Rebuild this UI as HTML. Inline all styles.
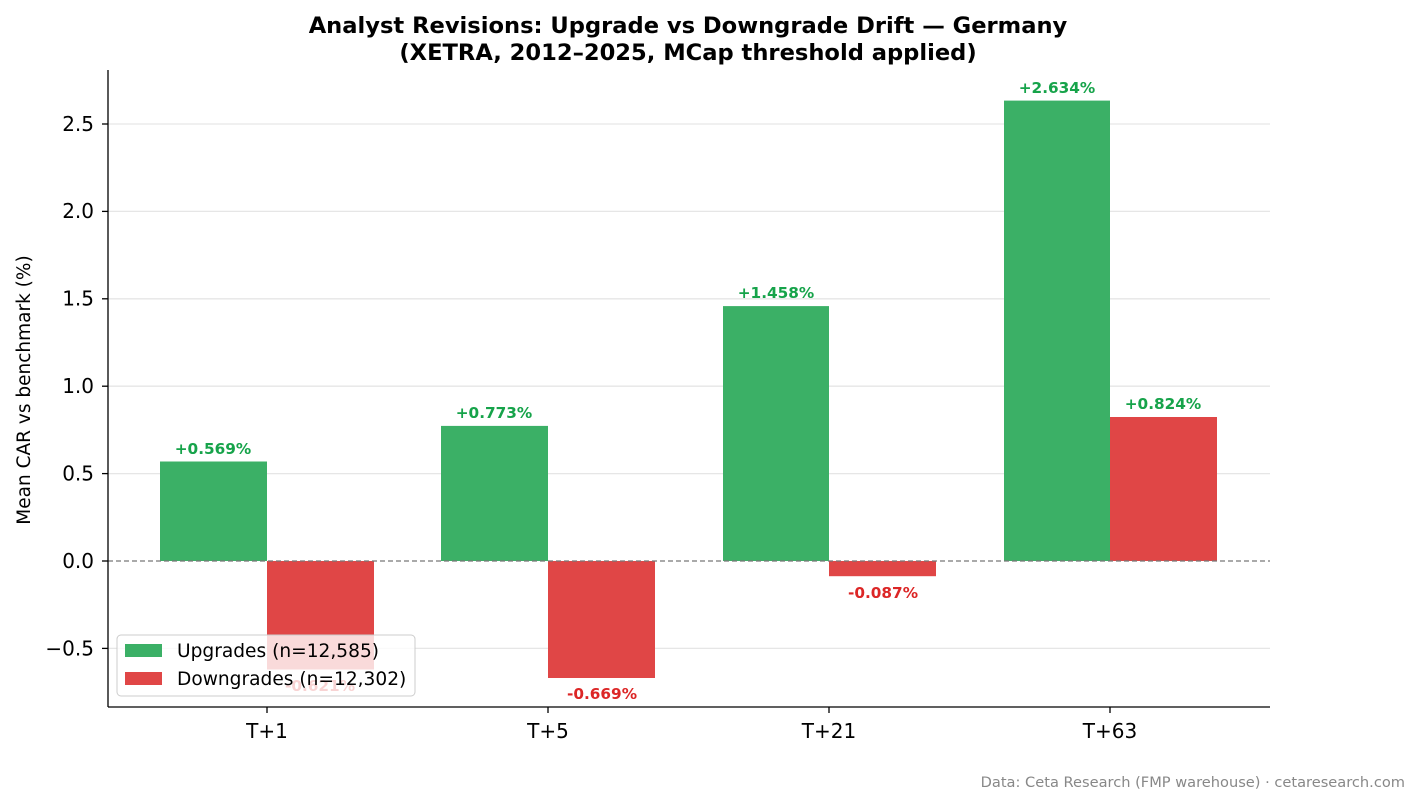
<!DOCTYPE html>
<html><head><meta charset="utf-8"><style>
body{margin:0;background:#fff;}
svg text{font-family:"DejaVu Sans","Liberation Sans",sans-serif;}
</style></head><body>
<svg width="1420" height="804" viewBox="0 0 1420 804" xmlns="http://www.w3.org/2000/svg">
<rect width="1420" height="804" fill="#fff"/>
<text x="688" y="33" text-anchor="middle" font-size="22.6" font-weight="bold">Analyst Revisions: Upgrade vs Downgrade Drift — Germany</text>
<text x="688" y="60" text-anchor="middle" font-size="22.6" font-weight="bold">(XETRA, 2012–2025, MCap threshold applied)</text>
<g stroke="#e6e6e6" stroke-width="1.3">
<line x1="108" x2="1270" y1="648.4" y2="648.4"/>
<line x1="108" x2="1270" y1="473.6" y2="473.6"/>
<line x1="108" x2="1270" y1="386.2" y2="386.2"/>
<line x1="108" x2="1270" y1="298.8" y2="298.8"/>
<line x1="108" x2="1270" y1="211.4" y2="211.4"/>
<line x1="108" x2="1270" y1="124" y2="124"/>
</g>
<g fill="#3bb066">
<rect x="160" y="461.5" width="107" height="99.5"/>
<rect x="441" y="425.9" width="107" height="135.1"/>
<rect x="723" y="306.1" width="106" height="254.9"/>
<rect x="1004" y="100.6" width="106" height="460.4"/>
</g>
<g fill="#e04646">
<rect x="267" y="561" width="107" height="108.5"/>
<rect x="548" y="561" width="107" height="117"/>
<rect x="829" y="561" width="107" height="15.2"/>
<rect x="1110" y="417" width="107" height="144"/>
</g>
<line x1="108" x2="1270" y1="561" y2="561" stroke="#777" stroke-width="1.3" stroke-dasharray="5,3"/>
<g font-size="15.3" font-weight="bold" text-anchor="middle" fill="#16a34a">
<text x="213" y="454">+0.569%</text>
<text x="494" y="418">+0.773%</text>
<text x="776" y="298">+1.458%</text>
<text x="1057" y="93">+2.634%</text>
<text x="1163" y="409">+0.824%</text>
</g>
<g font-size="15.3" font-weight="bold" text-anchor="middle" fill="#dc2626">
<text x="320" y="691">-0.621%</text>
<text x="602" y="699">-0.669%</text>
<text x="883" y="598">-0.087%</text>
</g>
<g stroke="#000" stroke-width="1.3">
<line x1="108" x2="108" y1="70" y2="707"/>
<line x1="108" x2="1270" y1="707" y2="707"/>
<line x1="102" x2="108" y1="648.4" y2="648.4"/>
<line x1="102" x2="108" y1="561" y2="561"/>
<line x1="102" x2="108" y1="473.6" y2="473.6"/>
<line x1="102" x2="108" y1="386.2" y2="386.2"/>
<line x1="102" x2="108" y1="298.8" y2="298.8"/>
<line x1="102" x2="108" y1="211.4" y2="211.4"/>
<line x1="102" x2="108" y1="124" y2="124"/>
<line x1="267" x2="267" y1="707" y2="713"/>
<line x1="548" x2="548" y1="707" y2="713"/>
<line x1="829" x2="829" y1="707" y2="713"/>
<line x1="1110" x2="1110" y1="707" y2="713"/>
</g>
<g font-size="20" text-anchor="end">
<text x="94" y="655.5">−0.5</text>
<text x="94" y="568">0.0</text>
<text x="94" y="480.5">0.5</text>
<text x="94" y="393">1.0</text>
<text x="94" y="305.5">1.5</text>
<text x="94" y="218">2.0</text>
<text x="94" y="131">2.5</text>
</g>
<g font-size="20" text-anchor="middle">
<text x="267" y="738">T+1</text>
<text x="548" y="738">T+5</text>
<text x="829" y="738">T+21</text>
<text x="1110" y="738">T+63</text>
</g>
<text transform="translate(30,390) rotate(-90)" text-anchor="middle" font-size="18.5">Mean CAR vs benchmark (%)</text>
<rect x="117" y="635" width="298" height="61" rx="4" fill="#fff" fill-opacity="0.8" stroke="#ccc"/>
<rect x="125" y="644" width="37" height="13" fill="#3bb066"/>
<rect x="125" y="672" width="37" height="13" fill="#e04646"/>
<text x="177" y="657" font-size="18.6">Upgrades (n=12,585)</text>
<text x="177" y="685" font-size="18.6">Downgrades (n=12,302)</text>
<text x="1405" y="787" text-anchor="end" font-size="14.6" fill="#888">Data: Ceta Research (FMP warehouse) · cetaresearch.com</text>
</svg>
</body></html>
